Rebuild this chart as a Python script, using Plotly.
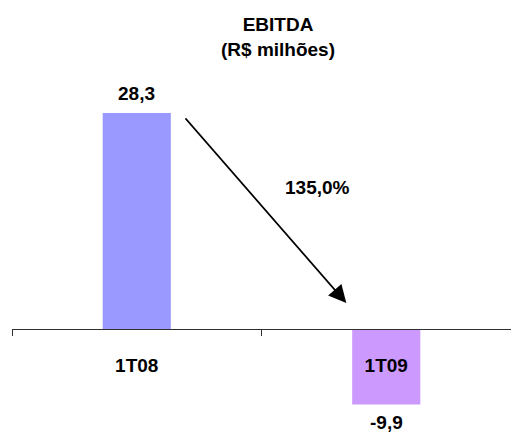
import plotly.graph_objects as go

# EBITDA by quarter (R$ millions)
quarters = ["1T08", "1T09"]
ebitda = [28.3, -9.9]
bar_colors = ["#9999FF", "#CC99FF"]
change_label = "135,0%"

FONT = "Liberation Sans, Arial, sans-serif"
FS = 19


def fmt(v):
    return f"{v:.1f}".replace(".", ",")


fig = go.Figure(
    go.Bar(
        x=quarters,
        y=ebitda,
        marker=dict(color=bar_colors, line=dict(width=0)),
        width=0.273,
        hoverinfo="skip",
    )
)

# value labels above positive bars / below negative bars
annotations = []
for q, v in zip(quarters, ebitda):
    annotations.append(
        dict(
            x=q, y=v, xref="x", yref="y",
            text=f"<b>{fmt(v)}</b>",
            showarrow=False,
            xanchor="center",
            yanchor="middle",
            yshift=20 if v >= 0 else -18,
            font=dict(family=FONT, size=FS, color="black"),
        )
    )

# arrow showing the change between the quarters
annotations.append(
    dict(
        x=0.84, y=3.4, xref="x", yref="y",
        ax=0.19, ay=27.8, axref="x", ayref="y",
        showarrow=True, arrowhead=2, arrowsize=2.2, arrowwidth=1.6,
        arrowcolor="black", text="",
    )
)
annotations.append(
    dict(
        x=0.725, y=18.5, xref="x", yref="y",
        text=f"<b>{change_label}</b>", showarrow=False,
        xanchor="center", yanchor="middle",
        font=dict(family=FONT, size=FS, color="black"),
    )
)

# title
annotations.append(
    dict(
        x=0.534, y=0.915, xref="paper", yref="paper",
        text="<b>EBITDA<br>(R$ milhões)</b>", showarrow=False,
        xanchor="center", yanchor="middle",
        font=dict(family=FONT, size=FS, color="black"),
    )
)

height = 434
width = 511
zero_frac = 105 / height

fig.update_layout(
    width=width,
    height=height,
    margin=dict(l=12, r=0, t=0, b=0),
    paper_bgcolor="white",
    plot_bgcolor="white",
    showlegend=False,
    xaxis=dict(
        type="category",
        anchor="free",
        position=zero_frac,
        range=[-0.5, 1.5],
        showline=True,
        linecolor="#303030",
        linewidth=1,
        ticks="outside",
        tickson="boundaries",
        ticklen=6,
        tickcolor="#303030",
        tickwidth=1,
        ticklabelstandoff=19,
        showgrid=False,
        zeroline=False,
        tickfont=dict(family=FONT, size=FS, color="black", weight="bold"),
    ),
    yaxis=dict(
        range=[-13.76, 43.12],
        visible=False,
        showgrid=False,
        zeroline=False,
    ),
    annotations=annotations,
)

fig.write_html("out.html")
